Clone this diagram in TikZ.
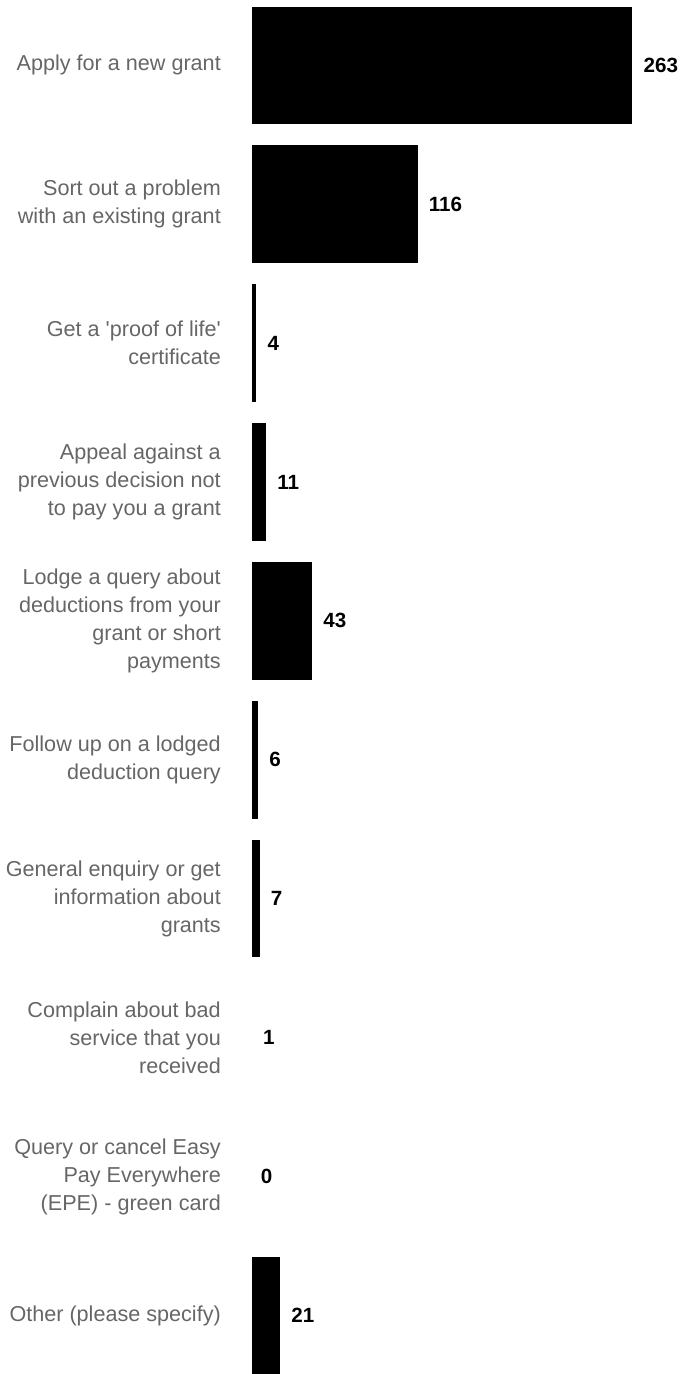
\documentclass[tikz,border=0pt]{standalone}
\usepackage{fontspec}
\setmainfont{Liberation Sans}
\usepackage{xcolor}
\usetikzlibrary{positioning}
\definecolor{labelgray}{RGB}{102,102,102}

\tikzset{
    bar/.style={fill=black, inner sep=0pt, minimum height=117.5pt, anchor=west},
    lbl/.style={anchor=east, align=right, inner sep=0pt, text=labelgray, font=\fontsize{21.6}{28}\selectfont},
    val/.style={inner sep=0pt, font=\fontsize{20.6}{24}\selectfont\bfseries}
}

\begin{document}
\begin{tikzpicture}[x=1pt, y=-1pt, node distance=11pt]
    \useasboundingbox (0,0) rectangle (682,1374);

    \node[lbl] (lbl1) at (221,65.3) {Apply for a new grant};
    \node[lbl] (lbl2) at (221,204.2) {Sort out a problem\\with an existing grant};
    \node[lbl] (lbl3) at (221,343.1) {Get a \textquotesingle proof of life\textquotesingle\\certificate};
    \node[lbl] (lbl4) at (221,482.0) {Appeal against a\\previous decision not\\to pay you a grant};
    \node[lbl] (lbl5) at (221,620.9) {Lodge a query about\\deductions from your\\grant or short\\payments};
    \node[lbl] (lbl6) at (221,759.8) {Follow up on a lodged\\deduction query};
    \node[lbl] (lbl7) at (221,898.7) {General enquiry or get\\information about\\grants};
    \node[lbl] (lbl8) at (221,1037.6) {Complain about bad\\service that you\\received};
    \node[lbl] (lbl9) at (221,1176.5) {Query or cancel Easy\\Pay Everywhere\\(EPE) - green card};
    \node[lbl] (lbl10) at (221,1315.4) {Other (please specify)};

    \node[bar, minimum width=380pt] (bar1) at (252,65.3) {};
    \node[bar, minimum width=165.3pt] (bar2) at (252,204.2) {};
    \node[bar, minimum width=4pt] (bar3) at (252,343.1) {};
    \node[bar, minimum width=13.7pt] (bar4) at (252,482.0) {};
    \node[bar, minimum width=59.7pt] (bar5) at (252,620.9) {};
    \node[bar, minimum width=5.7pt] (bar6) at (252,759.8) {};
    \node[bar, minimum width=7.3pt] (bar7) at (252,898.7) {};
    \coordinate (bar8) at (252,1037.6);
    \coordinate (bar9) at (249.7,1176.5);
    \node[bar, minimum width=27.7pt] (bar10) at (252,1315.4) {};

    \node[val, right=of bar1] (val1) {263};
    \node[val, right=of bar2] (val2) {116};
    \node[val, right=of bar3] (val3) {4};
    \node[val, right=of bar4] (val4) {11};
    \node[val, right=of bar5] (val5) {43};
    \node[val, right=of bar6] (val6) {6};
    \node[val, right=of bar7] (val7) {7};
    \node[val, right=of bar8] (val8) {1};
    \node[val, right=of bar9] (val9) {0};
    \node[val, right=of bar10] (val10) {21};
\end{tikzpicture}
\end{document}
